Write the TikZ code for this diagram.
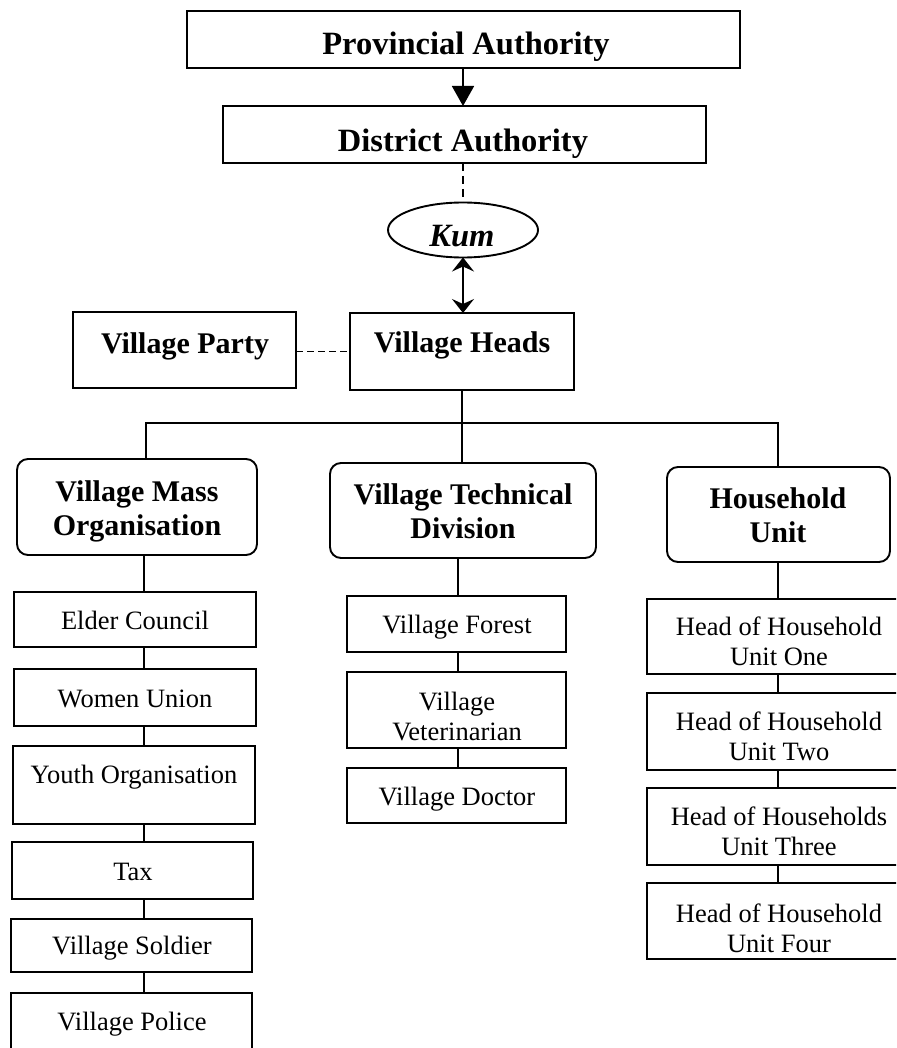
\documentclass[tikz,border=0pt]{standalone}
\usepackage{fontspec}
\setmainfont{Liberation Serif}
\usetikzlibrary{arrows.meta,shapes.geometric}
\newcommand\mybox[6][]{\node[obx,#1,minimum width={#4pt-#2pt},minimum height={#5pt-#3pt}] (#6) at ({(#2+#4)/2},{(#3+#5)/2}) {};}
\begin{document}
\begin{tikzpicture}[x=1pt,y=-1pt,
  obx/.style={draw, line width=1.9pt, rectangle, inner sep=0pt, outer sep=0pt},
  rbx/.style={rounded corners=11pt},
  hd/.style={font=\bfseries\fontsize{32.5}{34}\selectfont, inner sep=0pt, align=center, anchor=base},
  vhd/.style={font=\bfseries\fontsize{30}{34}\selectfont, inner sep=0pt, align=center, anchor=base},
  tx/.style={font=\fontsize{26.5}{30}\selectfont, inner sep=0pt, align=center, anchor=base},
  link/.style={line width=1.7pt},
  dsh/.style={line width=1.8pt, dash pattern=on 8pt off 5pt}]
\useasboundingbox (0,0) rectangle (896,1048);
\clip (0,0) rectangle (896,1048);

% top chain
\mybox{187}{11}{740}{68}{prov}
\node[hd] (prov-t) at (466,55) {Provincial Authority};
\mybox{223}{106}{706}{163}{dist}
\node[hd] (dist-t) at (463,152) {District Authority};
\node[draw, line width=1.9pt, ellipse, minimum width=150pt, minimum height=55pt, inner sep=0pt, outer sep=0pt] (kum) at (463,230) {};
\node[hd] (kum-t) at (462,247) {\itshape Kum};
\mybox{73}{312}{296}{388}{party}
\node[vhd] (party-t) at (185,353) {Village Party};
\mybox{350}{313}{574}{390}{heads}
\node[vhd] (heads-t) at (462,352) {Village Heads};

% second level
\mybox[rbx]{17}{459}{257}{555}{mass}
\node[vhd] (mass-t) at (137,535) {Village Mass\\Organisation};
\mybox[rbx]{330}{463}{596}{558}{tech}
\node[vhd] (tech-t) at (463,538) {Village Technical\\Division};
\mybox[rbx]{667}{467}{890}{562}{hh}
\node[vhd] (hh-t) at (778,542) {Household\\Unit};

% mass stack
\mybox{14}{592}{256}{647}{elder}
\node[tx] (elder-t) at (135,629) {Elder Council};
\mybox{14}{669}{256}{726}{women}
\node[tx] (women-t) at (135,707) {Women Union};
\mybox{13}{746}{255}{824}{youth}
\node[tx] (youth-t) at (134,783) {Youth Organisation};
\mybox{12}{842}{253}{899}{tax}
\node[tx] (tax-t) at (133,880) {Tax};
\mybox{11}{919}{252}{972}{soldier}
\node[tx] (soldier-t) at (132,954) {Village Soldier};
\mybox{11}{993}{252}{1070}{police}
\node[tx] (police-t) at (132,1030) {Village Police};

% technical stack
\mybox{347}{596}{566}{652}{forest}
\node[tx] (forest-t) at (457,633) {Village Forest};
\mybox{347}{672}{566}{748}{vet}
\node[tx] (vet-t) at (457,740) {Village\\Veterinarian};
\mybox{347}{768}{566}{823}{doctor}
\node[tx] (doctor-t) at (457,805) {Village Doctor};

% household stack
\mybox{647}{599}{911}{674}{one}
\node[tx] (one-t) at (779,665) {Head of Household\\Unit One};
\mybox{647}{693}{911}{770}{two}
\node[tx] (two-t) at (779,760) {Head of Household\\Unit Two};
\mybox{647}{788}{911}{865}{three}
\node[tx] (three-t) at (779,855) {Head of Households\\Unit Three};
\mybox{647}{883}{911}{959}{four}
\node[tx] (four-t) at (779,952) {Head of Household\\Unit Four};

% connectors
\coordinate (spine) at (463,0);
\draw[link,-{Triangle[width=22pt,length=20pt]}] (prov.south -| spine) -- (dist.north -| spine);
\draw[dsh] (dist.south -| spine) -- (kum.north);
\draw[link,{Stealth[width=22pt,length=14pt,inset=5pt]}-{Stealth[width=22pt,length=14pt,inset=5pt]}] (kum.south) -- (heads.north -| kum.south);
\draw[dsh, dash pattern=on 7pt off 4pt] (party.east |- heads.west) -- (heads.west);

\coordinate (busL) at (146,423);
\coordinate (busR) at (778,423);
\draw[link] (heads.south) -- (tech.north -| heads.south);
\draw[link] (mass.north -| busL) -- (busL) -- (busR) -- (hh.north -| busR);

\coordinate (cm) at (144,0);
\draw[link] (mass.south -| cm) -- (elder.north -| cm);
\draw[link] (elder.south -| cm) -- (women.north -| cm);
\draw[link] (women.south -| cm) -- (youth.north -| cm);
\draw[link] (youth.south -| cm) -- (tax.north -| cm);
\draw[link] (tax.south -| cm) -- (soldier.north -| cm);
\draw[link] (soldier.south -| cm) -- (police.north -| cm);

\coordinate (ct) at (458,0);
\draw[link] (tech.south -| ct) -- (forest.north -| ct);
\draw[link] (forest.south -| ct) -- (vet.north -| ct);
\draw[link] (vet.south -| ct) -- (doctor.north -| ct);

\coordinate (ch) at (778,0);
\draw[link] (hh.south -| ch) -- (one.north -| ch);
\draw[link] (one.south -| ch) -- (two.north -| ch);
\draw[link] (two.south -| ch) -- (three.north -| ch);
\draw[link] (three.south -| ch) -- (four.north -| ch);
\end{tikzpicture}
\end{document}
